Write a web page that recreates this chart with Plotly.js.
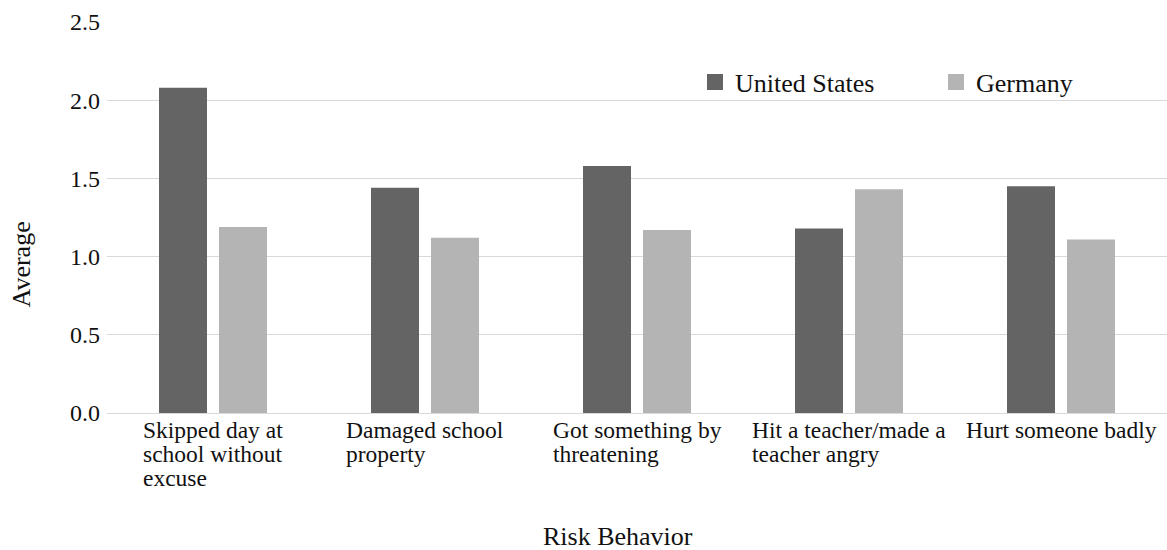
<!DOCTYPE html>
<html>
<head>
<meta charset="utf-8">
<script src="https://cdn.plot.ly/plotly-3.0.1.min.js"></script>
<style>
  html, body { margin: 0; padding: 0; background: #fff; }
  #chart { width: 1167px; height: 550px; }
</style>
</head>
<body>
<div id="chart"></div>
<script>
const categories = [
  'Skipped day at school without excuse',
  'Damaged school property',
  'Got something by threatening',
  'Hit a teacher/made a teacher angry',
  'Hurt someone badly'
];
const tickLabels = [
  'Skipped day at<br>school without<br>excuse',
  'Damaged school<br>property',
  'Got something by<br>threatening',
  'Hit a teacher/made a<br>teacher angry',
  'Hurt someone badly'
];
const usValues = [2.08, 1.44, 1.58, 1.18, 1.45];
const germanyValues = [1.19, 1.12, 1.17, 1.43, 1.11];
const seriesNames = ['United States', 'Germany'];
const yTicks = [0, 0.5, 1.0, 1.5, 2.0, 2.5];
const xTitle = 'Risk Behavior';
const yTitle = 'Average';

const FONT = 'Liberation Serif, Times New Roman, serif';
const TEXT = '#111111';

const traces = [
  { type: 'bar', name: seriesNames[0], x: categories, y: usValues,
    marker: { color: '#646464' }, hoverinfo: 'skip' },
  { type: 'bar', name: seriesNames[1], x: categories, y: germanyValues,
    marker: { color: '#b4b4b4' }, hoverinfo: 'skip' }
];

const annotations = categories.map((c, i) => ({
  x: c, y: 0, xref: 'x', yref: 'y',
  text: tickLabels[i], showarrow: false,
  xanchor: 'center', yanchor: 'top', align: 'left',
  yshift: -2,
  font: { family: FONT, size: 23.5, color: TEXT }
}));
annotations.push({
  xref: 'paper', yref: 'paper', x: 0.482, y: -0.3166,
  xanchor: 'center', yanchor: 'middle', showarrow: false,
  text: xTitle, font: { family: FONT, size: 26, color: TEXT }
});
annotations.push({
  xref: 'paper', yref: 'paper', x: -0.0811, y: 0.38,
  xanchor: 'center', yanchor: 'middle', showarrow: false, textangle: -90,
  text: yTitle, font: { family: FONT, size: 26, color: TEXT }
});

const layout = {
  width: 1167, height: 550,
  margin: { l: 107, r: 0, t: 22, b: 137, pad: 0, autoexpand: false },
  paper_bgcolor: '#ffffff', plot_bgcolor: '#ffffff',
  font: { family: FONT, color: TEXT },
  barmode: 'group', bargap: 0.434, bargroupgap: 0.2,
  showlegend: true,
  legend: {
    orientation: 'h', x: 0.5547, y: 0.846, xanchor: 'left', yanchor: 'middle',
    font: { family: FONT, size: 26, color: TEXT },
    entrywidth: 196, entrywidthmode: 'pixels',
    bgcolor: 'rgba(0,0,0,0)', borderwidth: 0
  },
  xaxis: {
    type: 'category', showticklabels: false, showgrid: false,
    showline: false, zeroline: false, ticks: ''
  },
  yaxis: {
    range: [0, 2.5], tickvals: yTicks, tickformat: '.1f',
    showgrid: true, gridcolor: '#d9d9d9', gridwidth: 1,
    zeroline: true, zerolinecolor: '#d9d9d9', zerolinewidth: 1,
    showline: false, ticks: '', ticklabelstandoff: 6,
    tickfont: { family: FONT, size: 24, color: TEXT }
  },
  annotations: annotations
};

Plotly.newPlot('chart', traces, layout, { displayModeBar: false, staticPlot: true }).then(() => {
  document.querySelectorAll('.annotation-text').forEach(t => {
    const lines = t.querySelectorAll('tspan.line');
    lines.forEach((ln, i) => { if (i > 0) ln.setAttribute('dy', (i * 1.03).toFixed(2) + 'em'); });
  });
  document.querySelectorAll('.legendpoints path').forEach(p => {
    p.setAttribute('d', 'M8,8H-8V-8H8Z');
  });
});
</script>
</body>
</html>
